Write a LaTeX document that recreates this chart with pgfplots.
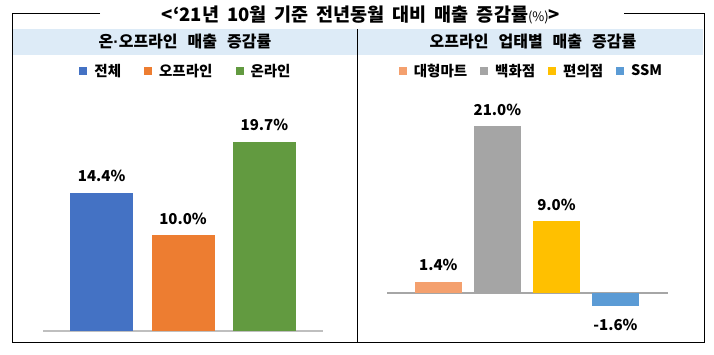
\documentclass[border=0pt]{standalone}
\usepackage{pgfplots}
\pgfplotsset{compat=1.18}
\usepackage{fontspec}
\setmainfont{Noto Sans CJK KR}
\newfontfamily\latinfont{Liberation Sans}
\definecolor{cBlue}{HTML}{4472C4}
\definecolor{cOrange}{HTML}{ED7D31}
\definecolor{cGreen}{HTML}{629A40}
\definecolor{cSalmon}{HTML}{F4A06E}
\definecolor{cGray}{HTML}{A5A5A5}
\definecolor{cYellow}{HTML}{FFC000}
\definecolor{cSky}{HTML}{5B9BD5}
\definecolor{headBlue}{HTML}{DDEBF7}
\definecolor{lineGray}{HTML}{BFBFBF}
\definecolor{lineGrayB}{HTML}{A6A6A6}
\pgfplotsset{
  barpanel/.style={
    scale only axis, anchor=south west, clip=false,
    axis y line=none, xtick=\empty, ytick=\empty,
    ybar,
    nodes near coords={\pgfmathprintnumber[fixed,fixed zerofill,precision=1,assume math mode=true]{\pgfplotspointmeta}\%},
    every node near coord/.append style={font=\bfseries\fontsize{15}{17}\selectfont, inner sep=0pt, yshift=10.5pt},
    legend columns=-1,
    legend image code/.code={\fill[#1] (0pt,-4pt) rectangle (8pt,4pt); \path (13pt,0pt);},
  }
}
\begin{document}
\begin{tikzpicture}[x=1pt,y=1pt]
\fill[white] (0,0) rectangle (714,355);
\fill[headBlue] (13,300) rectangle (703,326);
\draw[black, line width=1pt] (100,341.5) -- (12,341.5) -- (12,12) -- (704,12) -- (704,341.5) -- (624,341.5);
\draw[black, line width=0.8pt] (357.5,326) -- (357.5,12);
\node[inner sep=0pt] at (361,340.5) {\bfseries\fontsize{18.5}{20}\selectfont <‘21년\hspace{8pt}10월\hspace{8pt}기준\hspace{8pt}전년동월\hspace{8pt}대비\hspace{8pt}매출\hspace{8pt}증감률{\mdseries\fontsize{13}{15}\selectfont(\%)}>};
\node[inner sep=0pt] at (185,313) {\bfseries\fontsize{16}{18}\selectfont 온{\latinfont\bfseries ·}오프라인\hspace{10pt}매출\hspace{10pt}증감률};
\node[inner sep=0pt] at (533,313) {\bfseries\fontsize{16}{18}\selectfont 오프라인\hspace{10pt}업태별\hspace{10pt}매출\hspace{10pt}증감률};

\begin{axis}[barpanel,
  at={(43pt,24pt)}, width=280pt, height=240pt,
  xmin=-0.72, xmax=2.72, ymin=0, ymax=25,
  axis x line=bottom,
  x axis line style={-, draw=lineGray, line width=2pt},
  bar width=63pt,
  legend style={draw=none, fill=none, at={(0.5,1)}, anchor=center, xshift=3pt, yshift=20pt,
    font=\bfseries\fontsize{14.5}{16}\selectfont,
    /tikz/every even column/.append style={column sep=21pt}},
]
\addplot[fill=cBlue, draw=none, bar shift=0pt] coordinates {(0,14.4)};
\addplot[fill=cOrange, draw=none, bar shift=0pt] coordinates {(1,10.0)};
\addplot[fill=cGreen, draw=none, bar shift=0pt] coordinates {(2,19.7)};
\legend{전체,오프라인,온라인}
\end{axis}

\begin{axis}[barpanel,
  at={(387pt,38.15pt)}, width=281pt, height=230.55pt,
  xmin=-0.87, xmax=3.89, ymin=-3, ymax=26,
  axis x line=middle,
  x axis line style={-, draw=lineGrayB, line width=1.5pt},
  bar width=47pt,
  legend style={draw=none, fill=none, at={(0.5,1)}, anchor=center, xshift=4pt, yshift=15.3pt,
    font=\bfseries\fontsize{14.5}{16}\selectfont,
    /tikz/every even column/.append style={column sep=11pt}},
]
\addplot[fill=cSalmon, draw=none, bar shift=0pt] coordinates {(0,1.4)};
\addplot[fill=cGray, draw=none, bar shift=0pt] coordinates {(1,21.0)};
\addplot[fill=cYellow, draw=none, bar shift=0pt] coordinates {(2,9.0)};
\addplot[fill=cSky, draw=none, bar shift=0pt, every node near coord/.append style={yshift=-24pt}] coordinates {(3,-1.6)};
\legend{대형마트,백화점,편의점,SSM}
\end{axis}
\end{tikzpicture}
\end{document}
